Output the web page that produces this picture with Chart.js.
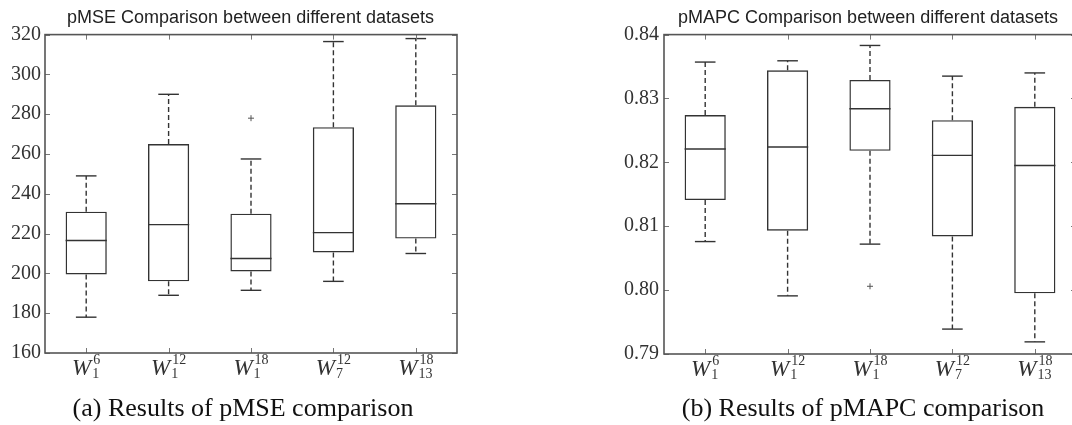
<!DOCTYPE html>
<html>
<head>
<meta charset="utf-8">
<script src="https://cdn.jsdelivr.net/npm/chart.js@4.4.0/dist/chart.umd.min.js"></script>
<style>
    html, body { margin: 0; padding: 0; background: #fff; overflow: hidden; width: 1072px; height: 425px; }
    .panel { position: absolute; top: 0; }
    .caption {
        position: absolute; top: 393px; line-height: 30px; text-align: center;
        font-family: 'Liberation Serif', serif; font-size: 26px; color: #111; white-space: nowrap;
    }
</style>
</head>
<body>
<canvas id="mseChart" class="panel" width="501" height="425" style="left:0"></canvas>
<canvas id="mapcChart" class="panel" width="508" height="425" style="left:614px"></canvas>
<div class="caption" style="left:0; width:486px">(a) Results of pMSE comparison</div>
<div class="caption" style="left:663px; width:400px">(b) Results of pMAPC comparison</div>
<script>
// Datasets on the x axis: W with subscript / superscript
const categories = ['W_1^6', 'W_1^12', 'W_1^18', 'W_7^12', 'W_13^18'];
const subScripts = ['1', '1', '1', '7', '13'];
const supScripts = ['6', '12', '18', '12', '18'];

// pMSE box plot values
const mseLow = [178, 189, 191.5, 196, 210];
const mseQ1 = [199.5, 196, 201, 210.5, 217.5];
const mseMedian = [216.5, 224.5, 207.5, 220.5, 235];
const mseQ3 = [231, 265, 230, 273.5, 284.5];
const mseHigh = [249, 290, 257.5, 316.5, 318];
const mseOutliers = [null, null, 278, null, null];
const mseTicks = [160, 180, 200, 220, 240, 260, 280, 300, 320];

// pMAPC box plot values
const mapcLow = [0.8076, 0.7991, 0.8072, 0.7939, 0.7919];
const mapcQ1 = [0.8141, 0.8093, 0.8218, 0.8084, 0.7995];
const mapcMedian = [0.8221, 0.8224, 0.8284, 0.8211, 0.8195];
const mapcQ3 = [0.8274, 0.8344, 0.8329, 0.8266, 0.8287];
const mapcHigh = [0.8357, 0.8359, 0.8383, 0.8335, 0.8340];
const mapcOutliers = [null, null, 0.8006, null, null];
const mapcTicks = [0.79, 0.80, 0.81, 0.82, 0.83, 0.84];

// whiskers, caps and medians, placed from the bar elements and y scale
const boxParts = {
    id: 'boxParts',
    afterDatasetsDraw(chart, args, opts) {
        const { ctx, scales: { y } } = chart;
        const bars = chart.getDatasetMeta(0).data;
        const seg = (x1, y1, x2, y2) => {
            ctx.beginPath();
            ctx.moveTo(x1, y1);
            ctx.lineTo(x2, y2);
            ctx.stroke();
        };
        ctx.save();
        ctx.strokeStyle = '#333';
        ctx.lineWidth = 1.4;
        bars.forEach((bar, i) => {
            const cx = bar.x;
            const half = bar.width / 2;
            const cap = bar.width / 4;
            const yLow = y.getPixelForValue(opts.low[i]);
            const yQ1 = y.getPixelForValue(opts.q1[i]);
            const yMed = y.getPixelForValue(opts.median[i]);
            const yQ3 = y.getPixelForValue(opts.q3[i]);
            const yHigh = y.getPixelForValue(opts.high[i]);

            ctx.setLineDash([]);
            seg(cx - half, yMed, cx + half, yMed);
            seg(cx - cap, yLow, cx + cap, yLow);
            seg(cx - cap, yHigh, cx + cap, yHigh);

            ctx.setLineDash([5, 3]);
            seg(cx, yQ1, cx, yLow);
            seg(cx, yQ3, cx, yHigh);
        });
        ctx.restore();
    }
};

// frame with inward ticks on all sides + math-style x labels
const frame = {
    id: 'frame',
    afterDraw(chart) {
        const { ctx, chartArea: a, scales: { x, y } } = chart;
        ctx.save();
        ctx.strokeStyle = '#777';
        ctx.lineWidth = 1;
        y.ticks.forEach(t => {
            const py = Math.round(y.getPixelForValue(t.value)) + 0.5;
            ctx.beginPath();
            ctx.moveTo(a.left, py); ctx.lineTo(a.left + 5, py);
            ctx.moveTo(a.right - 5, py); ctx.lineTo(a.right, py);
            ctx.stroke();
        });
        categories.forEach((c, i) => {
            const px = Math.round(x.getPixelForValue(i)) + 0.5;
            ctx.beginPath();
            ctx.moveTo(px, a.top); ctx.lineTo(px, a.top + 5);
            ctx.moveTo(px, a.bottom - 5); ctx.lineTo(px, a.bottom);
            ctx.stroke();
        });

        ctx.strokeStyle = '#555';
        ctx.lineWidth = 1.6;
        ctx.strokeRect(a.left, a.top, a.width, a.height);

        const bigFont = 'italic 23px "Liberation Serif"';
        const smallFont = '14px "Liberation Serif"';
        const base = a.bottom + 22;
        ctx.fillStyle = '#333';
        ctx.textAlign = 'left';
        ctx.textBaseline = 'alphabetic';
        categories.forEach((c, i) => {
            const px = x.getPixelForValue(i);
            ctx.font = bigFont;
            const wW = ctx.measureText('W').width;
            ctx.font = smallFont;
            const sw = Math.max(ctx.measureText(supScripts[i]).width, ctx.measureText(subScripts[i]).width);
            const x0 = px - (wW + 2 + sw) / 2;
            ctx.font = bigFont;
            ctx.fillText('W', x0, base);
            ctx.font = smallFont;
            ctx.fillText(supScripts[i], x0 + wW + 2, base - 11.5);
            ctx.fillText(subScripts[i], x0 + wW + 1, base + 3);
        });
        ctx.restore();
    }
};

function makeBoxChart(id, cfg) {
    return new Chart(document.getElementById(id), {
        data: {
            labels: categories,
            datasets: [{
                type: 'bar',
                data: cfg.q1.map((q, i) => [q, cfg.q3[i]]),
                backgroundColor: 'rgba(0,0,0,0)',
                borderColor: '#333',
                borderWidth: 1.4,
                borderSkipped: false,
                barPercentage: 0.5,
                categoryPercentage: 1.0
            }, {
                type: 'line',
                data: cfg.outliers,
                showLine: false,
                pointStyle: 'cross',
                pointRadius: 3,
                borderColor: '#555',
                borderWidth: 1
            }]
        },
        options: {
            responsive: false,
            animation: false,
            plugins: {
                legend: { display: false },
                tooltip: { enabled: false },
                title: {
                    display: true,
                    text: cfg.title,
                    color: '#222',
                    font: { family: 'Liberation Sans', size: 18, weight: 'normal' },
                    padding: { top: 7, bottom: 6 }
                },
                boxParts: { low: cfg.low, q1: cfg.q1, median: cfg.median, q3: cfg.q3, high: cfg.high }
            },
            scales: {
                x: {
                    type: 'category',
                    offset: true,
                    grid: { display: false, drawTicks: false },
                    border: { display: false },
                    ticks: { display: false },
                    afterFit: s => { s.height = cfg.xHeight; }
                },
                y: {
                    min: cfg.ticks[0],
                    max: cfg.ticks[cfg.ticks.length - 1],
                    grid: { display: false, drawTicks: false },
                    border: { display: false },
                    afterBuildTicks: s => { s.ticks = cfg.ticks.map(v => ({ value: v })); },
                    afterFit: s => { s.width = cfg.yWidth; },
                    ticks: {
                        padding: cfg.tickPad,
                        color: '#333',
                        font: { family: 'Liberation Serif', size: 20 },
                        callback: cfg.format
                    }
                },
                // empty right axis, only keeps the title centred over the plot
                yRight: {
                    position: 'right',
                    grid: { display: false, drawTicks: false },
                    border: { display: false },
                    ticks: { display: false },
                    afterFit: s => { s.width = cfg.rightWidth; }
                }
            }
        },
        plugins: [boxParts, frame]
    });
}

makeBoxChart('mseChart', {
    title: 'pMSE Comparison between different datasets',
    low: mseLow, q1: mseQ1, median: mseMedian, q3: mseQ3, high: mseHigh,
    outliers: mseOutliers, ticks: mseTicks,
    format: v => String(v),
    rightWidth: 44, yWidth: 45, xHeight: 72, tickPad: 4
});

makeBoxChart('mapcChart', {
    title: 'pMAPC Comparison between different datasets',
    low: mapcLow, q1: mapcQ1, median: mapcMedian, q3: mapcQ3, high: mapcHigh,
    outliers: mapcOutliers, ticks: mapcTicks,
    format: v => Number(v).toFixed(2),
    rightWidth: 46, yWidth: 50, xHeight: 71, tickPad: 5
});
</script>
</body>
</html>
